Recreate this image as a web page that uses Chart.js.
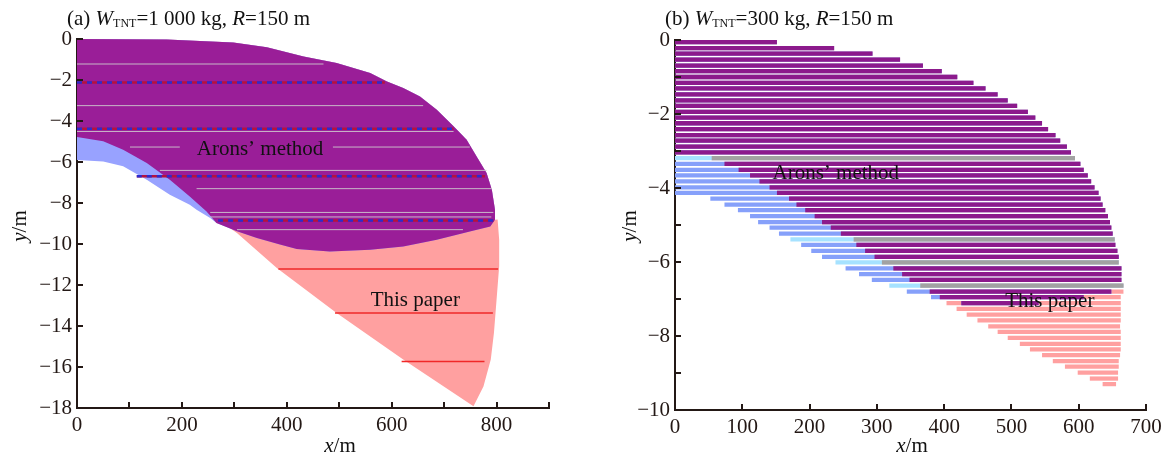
<!DOCTYPE html>
<html>
<head>
<meta charset="utf-8">
<script src="https://cdn.jsdelivr.net/npm/chart.js@4/dist/chart.umd.min.js"></script>
<style>
  body { margin: 0; background: #fff; width: 1174px; height: 457px; overflow: hidden; position: relative; }
  .panel { position: absolute; top: 0; width: 587px; height: 457px; }
  #wrapA { left: 0; }
  #wrapB { left: 587px; }
</style>
</head>
<body>
<div class="panel" id="wrapA"><canvas id="chartA" width="587" height="457"></canvas></div>
<div class="panel" id="wrapB"><canvas id="chartB" width="587" height="457"></canvas></div>
<script>
// ---------- panel (a): W_TNT = 1000 kg, region outlines (x in m, y in m) ----------
// shared upper / right edge, from the axis origin round to the right tip
const topEdgeXA = [0, 171, 298, 362, 432, 495, 559, 591, 622, 654, 686, 718, 743, 762, 781, 791, 797, 797];
const topEdgeYA = [0, -0.03, -0.17, -0.4, -0.85, -1.17, -1.66, -2.07, -2.39, -2.8, -3.45, -4.26, -4.91, -5.73, -6.54, -7.35, -8.33, -8.82];
// Arons' method: lower boundary (right to left) and lower-left edge down to the y axis
const aronsBottomXA = [797, 788, 749, 686, 622, 559, 482, 419, 387, 343, 305, 266];
const aronsBottomYA = [-8.82, -9.15, -9.39, -9.79, -10.12, -10.28, -10.36, -10.24, -10.03, -9.71, -9.38, -8.98];
const aronsLowXA = [266, 254, 228, 215, 177, 133, 88, 50, 0];
const aronsLowYA = [-8.98, -8.73, -8.33, -8.08, -7.6, -6.86, -6.21, -5.97, -5.9];
// This paper: right edge down to the tip, then the lower-left edge back up to the y axis
const paperRightXA = [802, 805, 805, 800, 795, 789, 775, 756];
const paperRightYA = [-8.81, -9.79, -11.09, -12.72, -14.34, -15.64, -16.95, -17.92];
const paperLeftXA = [756, 622, 495, 381, 305, 273, 247, 215, 177, 133, 88, 50, 0];
const paperLeftYA = [-17.92, -15.64, -13.37, -11.17, -9.46, -8.9, -8.41, -7.68, -6.86, -6.05, -5.4, -4.99, -4.78];
// sample lines drawn inside the regions
const dashLinesYA = [-2.12, -4.38, -6.7, -8.85];
const dashLinesFromA = [0, 0, 114, 269];
const dashLinesToA = [587, 718, 778, 794];
const redLinesYA = [-11.22, -13.37, -15.73];
const redLinesFromA = [384, 492, 619];
const redLinesToA = [803, 793, 777];
const grayLinesYA = [-1.22, -3.25, -4.51, -5.27, -5.27, -6.41, -7.3, -8.46, -8.68, -9.3];
const grayLinesFromA = [0, 0, 0, 101, 488, 158, 228, 254, 254, 305];
const grayLinesToA = [470, 660, 718, 196, 749, 781, 791, 794, 790, 736];

const xTicksA = [0, 100, 200, 300, 400, 500, 600, 700, 800, 900];
const xLabelsA = [0, 200, 400, 600, 800];
const yTicksA = [0, -2, -4, -6, -8, -10, -12, -14, -16, -18];
const yLabelsA = [0, -2, -4, -6, -8, -10, -12, -14, -16, -18];

// ---------- panel (b): W_TNT = 300 kg, one row per depth ----------
const rowsB = [-0.06, -0.22, -0.37, -0.53, -0.69, -0.84, -1.00, -1.16, -1.31, -1.47,
  -1.63, -1.78, -1.94, -2.10, -2.25, -2.41, -2.57, -2.72, -2.88, -3.04,
  -3.19, -3.35, -3.51, -3.66, -3.82, -3.98, -4.13, -4.29, -4.45, -4.60,
  -4.76, -4.92, -5.07, -5.23, -5.39, -5.54, -5.70, -5.86, -6.01, -6.17,
  -6.33, -6.48, -6.64, -6.80, -6.95, -7.11, -7.27, -7.42, -7.58, -7.74,
  -7.89, -8.05, -8.21, -8.36, -8.52, -8.68, -8.83, -8.99, -9.15, -9.30];
const aronsStartB = [0, 0, 0, 0, 0, 0, 0, 0, 0, 0,
  0, 0, 0, 0, 0, 0, 0, 0, 0, 0,
  0, 0, 0, 0, 0, 0, 0, 53, 74, 94,
  112, 124, 141, 155, 172, 188, 203, 219, 239, 254,
  274, 293, 319, 345, 381, 426, null, null, null, null,
  null, null, null, null, null, null, null, null, null, null];
const aronsEndB = [151, 236, 293, 334, 368, 396, 419, 443, 461, 479,
  494, 508, 524, 535, 545, 554, 565, 572, 582, 588,
  594, 602, 607, 613, 618, 623, 629, 632, 635, 639,
  643, 646, 648, 650, 653, 654, 657, 659, 659, 663,
  663, 663, 666, 648, 607, 540, null, null, null, null,
  null, null, null, null, null, null, null, null, null, null];
const paperStartB = [0, 0, 0, 0, 0, 0, 0, 0, 0, 0,
  0, 0, 0, 0, 0, 0, 0, 0, 0, 0,
  55, 74, 95, 112, 126, 141, 152, 170, 181, 194,
  208, 219, 232, 247, 266, 270, 283, 297, 308, 325,
  338, 349, 365, 379, 394, 404, 419, 434, 450, 466,
  480, 495, 513, 528, 546, 562, 580, 599, 617, 636];
const paperEndB = [151, 236, 293, 334, 368, 396, 419, 443, 461, 479,
  494, 508, 524, 535, 545, 554, 565, 572, 582, 588,
  594, 602, 607, 613, 618, 623, 629, 632, 635, 639,
  643, 646, 648, 650, 653, 654, 657, 659, 659, 663,
  663, 663, 666, 666, 662, 662, 662, 662, 662, 661,
  662, 662, 662, 662, 661, 659, 659, 658, 658, 655];
const grayRowsB = [20, 34, 38, 42];

const xTicksB = [0, 100, 200, 300, 400, 500, 600, 700];
const xLabelsB = [0, 100, 200, 300, 400, 500, 600, 700];
const yTicksB = [0, -1, -2, -3, -4, -5, -6, -7, -8, -9, -10];
const yLabelsB = [0, -2, -4, -6, -8, -10];

// ---------- styling ----------
const axisColor = '#231815';
const serif = '"Liberation Serif", "Times New Roman", serif';
const tickFont = { family: serif, size: 21 };
const purple = '#9a1e98';
const pink = '#ffa0a0';
const blue = '#98a2ff';

function fmt(v) {
  return v < 0 ? '\u2212' + Math.abs(v) : String(v);
}

function pts(xs, ys) {
  return xs.map((x, i) => ({ x: x, y: ys[i] }));
}

// horizontal segments with gaps between them
function segs(ys, from, to) {
  const out = [];
  ys.forEach((y, i) => {
    out.push({ x: from[i], y: y }, { x: to[i], y: y }, { x: null, y: null });
  });
  return out;
}

function axisOpts(min, max, ticksArr, labels, fit) {
  return {
    type: 'linear', min: min, max: max, offset: false,
    afterBuildTicks: s => { s.ticks = ticksArr.map(v => ({ value: v })); },
    afterFit: fit,
    ticks: {
      color: axisColor, font: tickFont, autoSkip: false, maxRotation: 0, padding: 5,
      callback: v => labels.includes(v) ? fmt(v) : ''
    },
    grid: { display: false, drawTicks: false, offset: false },
    border: { display: true, color: axisColor, width: 2 }
  };
}

function drawParts(ctx, x, y, parts, align) {
  let w = 0;
  parts.forEach(p => { ctx.font = p[1]; w += ctx.measureText(p[0]).width; });
  let cx = align === 'center' ? x - w / 2 : x;
  ctx.textAlign = 'left';
  parts.forEach(p => {
    ctx.font = p[1];
    ctx.fillText(p[0], cx, y + (p[2] || 0));
    cx += ctx.measureText(p[0]).width;
  });
}

const normal = '21px ' + serif;
const italic = 'italic 21px ' + serif;
const small = '12px ' + serif;

// inward tick marks, in-plot notes, panel title and axis titles
const deco = {
  id: 'deco',
  afterDraw(chart, args, o) {
    const ctx = chart.ctx;
    const x = chart.scales.x, y = chart.scales.y;
    ctx.save();
    ctx.strokeStyle = axisColor;
    ctx.lineWidth = 2;
    o.xTicks.forEach(v => {
      const px = Math.round(x.getPixelForValue(v));
      ctx.beginPath(); ctx.moveTo(px, y.bottom); ctx.lineTo(px, y.bottom - 6); ctx.stroke();
    });
    o.yTicks.forEach(v => {
      const py = Math.round(y.getPixelForValue(v));
      ctx.beginPath(); ctx.moveTo(x.left, py); ctx.lineTo(x.left + 6, py); ctx.stroke();
    });
    ctx.fillStyle = '#111';
    ctx.textBaseline = 'middle';
    ctx.textAlign = 'center';
    ctx.font = normal;
    o.notes.forEach(n => ctx.fillText(n.text, x.getPixelForValue(n.x), y.getPixelForValue(n.y)));

    ctx.textBaseline = 'alphabetic';
    drawParts(ctx, o.titleX, 24.5, o.title, 'left');
    drawParts(ctx, o.xTitleX, 452, [['x', italic], ['/m', normal]], 'center');
    ctx.save();
    ctx.translate(o.yTitleX, 226);
    ctx.rotate(-Math.PI / 2);
    ctx.textBaseline = 'middle';
    drawParts(ctx, 0, 0, [['y', italic], ['/m', normal]], 'center');
    ctx.restore();
    ctx.restore();
  }
};

// ---------- panel (a) ----------
const topA = pts(topEdgeXA, topEdgeYA);
const paperPolyA = topA.concat(pts(paperRightXA, paperRightYA), pts(paperLeftXA, paperLeftYA));
const aronsPolyA = topA.concat(pts(aronsBottomXA, aronsBottomYA), pts(aronsLowXA, aronsLowYA));
const joinX = aronsBottomXA[aronsBottomXA.length - 1];
const overlapPolyA = topA.concat(pts(aronsBottomXA, aronsBottomYA),
  pts(paperLeftXA, paperLeftYA).filter(p => p.x < joinX));

function region(data, color, order) {
  return { data: data, showLine: true, fill: 'shape', backgroundColor: color, borderWidth: 0,
    pointRadius: 0, order: order, tension: 0 };
}
function lineSet(data, color, width, dash, order) {
  return { data: data, showLine: true, fill: false, borderColor: color, borderWidth: width,
    borderDash: dash, pointRadius: 0, spanGaps: false, order: order };
}

new Chart(document.getElementById('chartA'), {
  type: 'scatter',
  data: {
    datasets: [
      lineSet(segs(grayLinesYA, grayLinesFromA, grayLinesToA), 'rgba(205,200,205,0.9)', 1, [], 2),
      lineSet(segs(dashLinesYA, dashLinesFromA, dashLinesToA), '#b5123f', 2.5, [], 1),
      lineSet(segs(dashLinesYA, dashLinesFromA, dashLinesToA), '#2b2bd0', 2.5, [5, 5], 0),
      lineSet(segs(redLinesYA, redLinesFromA, redLinesToA), '#f02828', 1.5, [], 0),
      region(overlapPolyA, purple, 3),
      region(aronsPolyA, blue, 4),
      region(paperPolyA, pink, 5)
    ]
  },
  options: {
    responsive: false, animation: false, devicePixelRatio: 1,
    layout: { padding: { left: 0, right: 38, top: 39, bottom: 0 } },
    scales: {
      x: axisOpts(0, 900, xTicksA, xLabelsA, s => { s.height = 49; }),
      y: axisOpts(-18, 0, yTicksA, yLabelsA, s => { s.width = 77; })
    },
    plugins: {
      legend: { display: false }, tooltip: { enabled: false },
      deco: {
        xTicks: xTicksA, yTicks: yTicksA,
        notes: [{ text: 'Arons\u2019 method', x: 349, y: -5.4 }, { text: 'This paper', x: 645, y: -12.77 }],
        titleX: 67,
        title: [['(a) ', normal], ['W', italic], ['TNT', small, 2], ['=1 000 kg, ', normal], ['R', italic], ['=150 m', normal]],
        xTitleX: 340, yTitleX: 20
      }
    }
  },
  plugins: [deco]
});

// ---------- panel (b) ----------
const overlapB = rowsB.map((y, i) => {
  if (aronsStartB[i] === null) return { y: y, x: null };
  const a = Math.max(aronsStartB[i], paperStartB[i]);
  const b = Math.min(aronsEndB[i], paperEndB[i]);
  return { y: y, x: b > a ? [a, b] : null };
});
const aronsB = rowsB.map((y, i) => ({ y: y, x: aronsStartB[i] === null ? null : [aronsStartB[i], aronsEndB[i]] }));
const paperB = rowsB.map((y, i) => ({ y: y, x: [paperStartB[i], paperEndB[i]] }));
const overlapColors = rowsB.map((y, i) => grayRowsB.includes(i) ? '#a2a2a2' : '#8c1a8c');
const aronsColors = rowsB.map((y, i) => grayRowsB.includes(i) ? '#a6e2ff' : '#86a0fa');

function rowSet(data, colors, order) {
  return { data: data, backgroundColor: colors, borderWidth: 0, barThickness: 3.6, grouped: false, order: order };
}

new Chart(document.getElementById('chartB'), {
  type: 'bar',
  data: {
    datasets: [
      rowSet(overlapB, overlapColors, 0),
      rowSet(aronsB, aronsColors, 1),
      rowSet(paperB, pink, 2)
    ]
  },
  options: {
    indexAxis: 'y',
    responsive: false, animation: false, devicePixelRatio: 1,
    layout: { padding: { left: 0, right: 28, top: 40, bottom: 0 } },
    scales: {
      x: axisOpts(0, 700, xTicksB, xLabelsB, s => { s.height = 47; }),
      y: axisOpts(-10, 0, yTicksB, yLabelsB, s => { s.width = 88; })
    },
    plugins: {
      legend: { display: false }, tooltip: { enabled: false },
      deco: {
        xTicks: xTicksB, yTicks: yTicksB,
        notes: [{ text: 'Arons\u2019 method', x: 239, y: -3.62 }, { text: 'This paper', x: 557, y: -7.08 }],
        titleX: 78,
        title: [['(b) ', normal], ['W', italic], ['TNT', small, 2], ['=300 kg, ', normal], ['R', italic], ['=150 m', normal]],
        xTitleX: 325, yTitleX: 43
      }
    }
  },
  plugins: [deco]
});
</script>
</body>
</html>
